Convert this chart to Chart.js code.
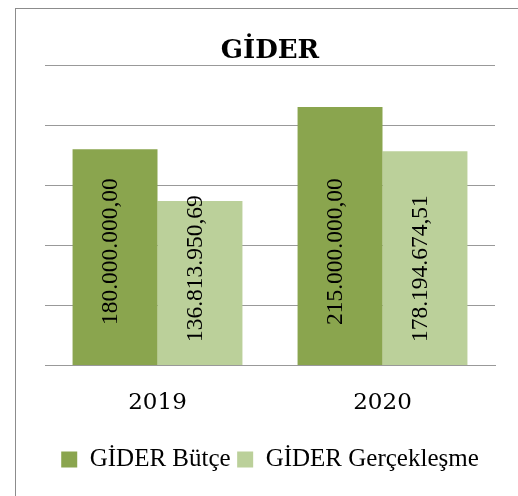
<!DOCTYPE html>
<html>
<head>
<meta charset="utf-8">
<script src="https://cdn.jsdelivr.net/npm/chart.js@4"></script>
<style>
  html, body { margin: 0; padding: 0; background: #fff; }
  #wrap { position: relative; width: 518px; height: 496px; overflow: hidden; }
  #frame { position: absolute; left: 15px; top: 8px; width: 600px; height: 600px;
           border: 1px solid #8c8c8c; pointer-events: none; }
</style>
</head>
<body>
<div id="wrap">
  <canvas id="giderChart" width="518" height="496"></canvas>
  <div id="frame"></div>
</div>
<script>
// Gider data
var years = ['2019', '2020'];
var butce = [180000000.00, 215000000.00];
var gerceklesme = [136813950.69, 178194674.51];
var seriesNames = ['GİDER Bütçe', 'GİDER Gerçekleşme'];

// 180000000 -> "180.000.000,00"
function trNumber(v) {
    var parts = v.toFixed(2).split('.');
    return parts[0].replace(/\B(?=(\d{3})+(?!\d))/g, '.') + ',' + parts[1];
}

// vertical value labels, anchored near the bar base
var labelOffsets = [40, 23];
var barLabels = {
    id: 'barLabels',
    afterDatasetsDraw: function(chart) {
        var ctx = chart.ctx;
        ctx.save();
        ctx.font = '23.5px "Liberation Serif"';
        ctx.fillStyle = '#000';
        ctx.textAlign = 'left';
        ctx.textBaseline = 'middle';
        chart.data.datasets.forEach(function(ds, i) {
            chart.getDatasetMeta(i).data.forEach(function(bar, j) {
                ctx.save();
                ctx.translate(bar.x - 4, bar.base - labelOffsets[i]);
                ctx.rotate(-Math.PI / 2);
                ctx.fillText(trNumber(ds.data[j]), 0, 0);
                ctx.restore();
            });
        });
        ctx.restore();
    }
};

Chart.defaults.font.family = '"Liberation Serif", serif';
Chart.defaults.color = '#000';

var chart = document.getElementById('giderChart');
var giderChart = new Chart(chart, {
    type: 'bar',
    data: {
        labels: years,
        datasets: [{
            label: seriesNames[0],
            data: butce,
            backgroundColor: '#8aa54e',
            borderWidth: 0
        }, {
            label: seriesNames[1],
            data: gerceklesme,
            backgroundColor: '#bbd09a',
            borderWidth: 0
        }]
    },
    options: {
        responsive: false,
        animation: false,
        layout: { padding: { top: 8, left: 45, right: 23, bottom: 14 } },
        datasets: { bar: { categoryPercentage: 0.755, barPercentage: 1.0 } },
        plugins: {
            title: {
                display: true,
                text: 'GİDER',
                color: '#000',
                font: { family: '"DejaVu Serif", serif', size: 26, weight: 'bold', lineHeight: 1.0 },
                padding: { top: 30, bottom: 1 }
            },
            legend: {
                position: 'bottom',
                labels: {
                    color: '#000',
                    font: { family: '"Liberation Serif", serif', size: 25 },
                    boxWidth: 16,
                    boxHeight: 16,
                    padding: 6.5
                }
            },
            tooltip: { enabled: false }
        },
        scales: {
            x: {
                grid: { display: false, drawTicks: false },
                border: { display: true, color: '#999', width: 1 },
                ticks: {
                    color: '#000',
                    padding: 4,
                    font: { family: '"DejaVu Serif", serif', size: 23, lineHeight: '67px' }
                }
            },
            y: {
                min: 0,
                max: 250000000,
                grid: { color: '#999', lineWidth: 1, drawTicks: false },
                border: { display: false },
                ticks: { display: false, stepSize: 50000000 }
            }
        }
    },
    plugins: [barLabels]
});
</script>
</body>
</html>
